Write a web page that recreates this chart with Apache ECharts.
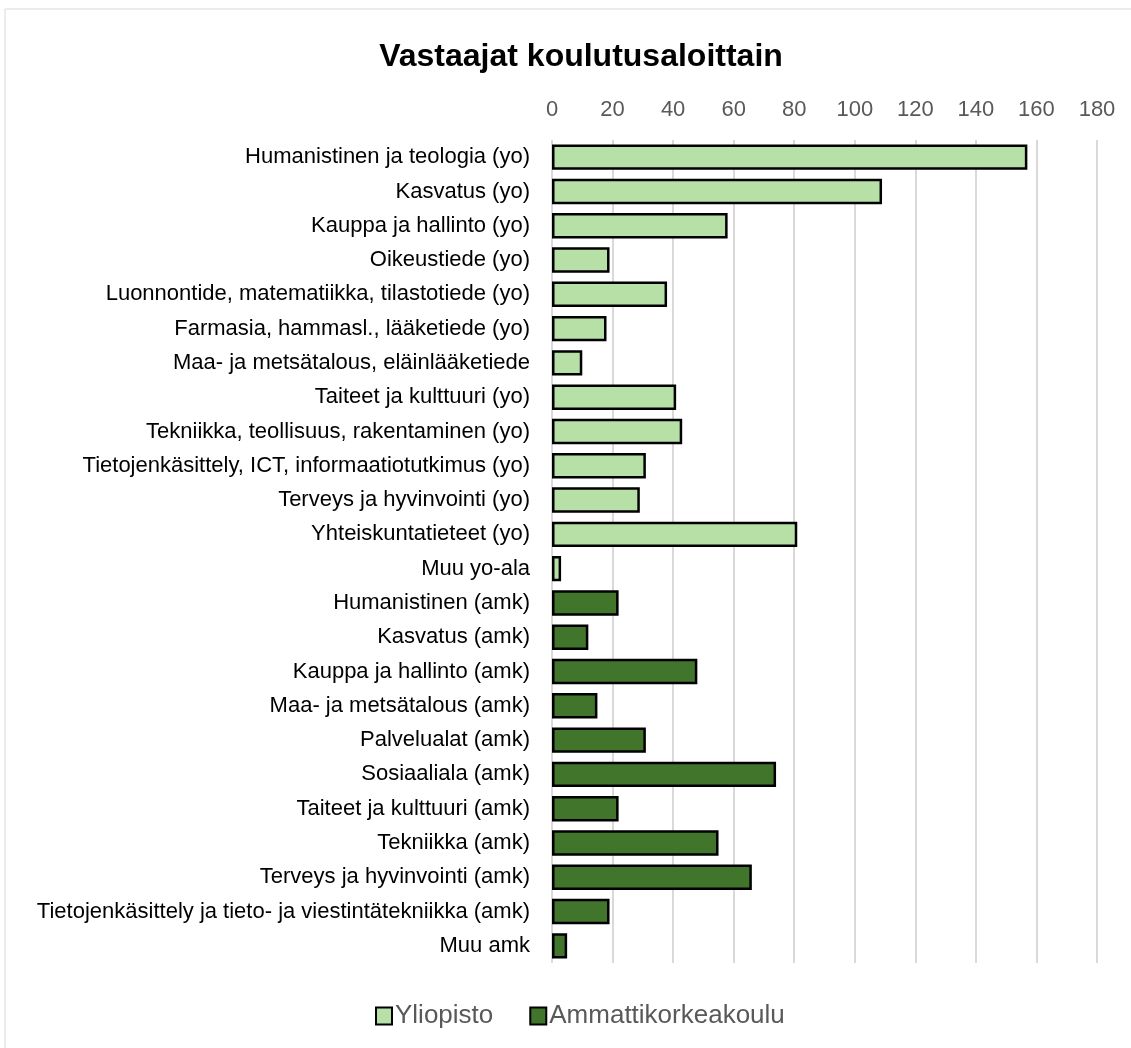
<!DOCTYPE html>
<html>
<head>
<meta charset="utf-8">
<script src="https://cdn.jsdelivr.net/npm/echarts@6/dist/echarts.min.js"></script>
<style>
  html, body { margin: 0; padding: 0; background: #fff; }
  #main { width: 1131px; height: 1048px; }
</style>
</head>
<body>
<div id="main"></div>
<script>
var yoCategories = ['Humanistinen ja teologia (yo)', 'Kasvatus (yo)', 'Kauppa ja hallinto (yo)', 'Oikeustiede (yo)',
  'Luonnontide, matematiikka, tilastotiede (yo)', 'Farmasia, hammasl., lääketiede (yo)',
  'Maa- ja metsätalous, eläinlääketiede', 'Taiteet ja kulttuuri (yo)', 'Tekniikka, teollisuus, rakentaminen (yo)',
  'Tietojenkäsittely, ICT, informaatiotutkimus (yo)', 'Terveys ja hyvinvointi (yo)', 'Yhteiskuntatieteet (yo)', 'Muu yo-ala']
var yoValues = [157, 109, 58, 19, 38, 18, 10, 41, 43, 31, 29, 81, 3]

var amkCategories = ['Humanistinen (amk)', 'Kasvatus (amk)', 'Kauppa ja hallinto (amk)', 'Maa- ja metsätalous (amk)',
  'Palvelualat (amk)', 'Sosiaaliala (amk)', 'Taiteet ja kulttuuri (amk)', 'Tekniikka (amk)',
  'Terveys ja hyvinvointi (amk)', 'Tietojenkäsittely ja tieto- ja viestintätekniikka (amk)', 'Muu amk']
var amkValues = [22, 12, 48, 15, 31, 74, 22, 55, 66, 19, 5]

var seriesNames = ['Yliopisto', 'Ammattikorkeakoulu']
var xTicks = [0, 180, 20]  // min, max, interval

var categories = yoCategories.concat(amkCategories)
// each series only fills its own rows, the rest stays empty
var yoData = yoValues.concat(amkCategories.map(function () { return '-' }))
var amkData = yoCategories.map(function () { return '-' }).concat(amkValues)

var font = 'Liberation Sans'
var chart = echarts.init(document.getElementById('main'))

chart.setOption({
  animation: false,
  backgroundColor: '#fff',
  title: {
    text: 'Vastaajat koulutusaloittain',
    left: 576,
    textAlign: 'center',
    top: 36,
    textStyle: { fontFamily: font, fontSize: 32, fontWeight: 'bold', color: '#000' }
  },
  graphic: [{
    type: 'rect',
    shape: { x: 5, y: 9, width: 1200, height: 1100 },
    style: { fill: 'none', stroke: '#d9d9d9', lineWidth: 1 },
    silent: true
  }],
  legend: {
    data: seriesNames,
    left: 370,
    top: 998,
    itemWidth: 16,
    itemHeight: 17,
    itemGap: 36,
    icon: 'rect',
    textStyle: { fontFamily: font, fontSize: 26, color: '#595959', padding: [0, 0, 0, -2] }
  },
  grid: { left: 552, right: 34, top: 140, bottom: 85 },
  xAxis: {
    type: 'value',
    position: 'top',
    min: xTicks[0],
    max: xTicks[1],
    interval: xTicks[2],
    axisLine: { show: false },
    axisTick: { show: false },
    axisLabel: { fontFamily: font, fontSize: 22, color: '#595959', margin: 19 },
    splitLine: { lineStyle: { color: '#d9d9d9', width: 2 } }
  },
  yAxis: {
    type: 'category',
    inverse: true,
    data: categories,
    axisLine: { show: false },
    axisTick: { show: false },
    axisLabel: { fontFamily: font, fontSize: 22, color: '#000', margin: 22 }
  },
  series: [{
    name: seriesNames[0],
    type: 'bar',
    stack: 'all',
    barCategoryGap: '26%',
    data: yoData,
    itemStyle: { color: '#B7E0A7', borderColor: '#000', borderWidth: 2.5 }
  }, {
    name: seriesNames[1],
    type: 'bar',
    stack: 'all',
    barCategoryGap: '26%',
    data: amkData,
    itemStyle: { color: '#41752C', borderColor: '#000', borderWidth: 2.5 }
  }]
})
</script>
</body>
</html>
